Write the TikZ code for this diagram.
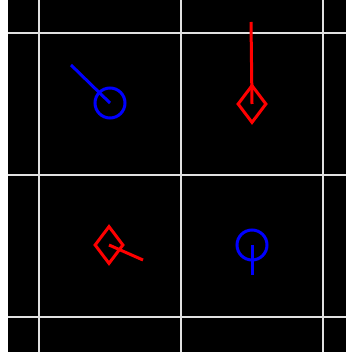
\documentclass[tikz,border=0pt]{standalone}
\usetikzlibrary{shapes.geometric}
\begin{document}
\begin{tikzpicture}[x=1pt,y=-1pt,
  gridline/.style={draw=white!88!black,line width=2pt},
  bluemark/.style={circle,draw=blue,line width=3pt,minimum size=30pt,inner sep=0pt},
  redmark/.style={diamond,draw=red,line width=3pt,minimum width=29pt,minimum height=38pt,inner sep=0pt},
  bluestick/.style={draw=blue,line width=3pt},
  redstick/.style={draw=red,line width=3pt}]
\useasboundingbox (0,0) rectangle (346,352);
\fill[white] (0,0) rectangle (346,352);
\fill[black] (8,0) rectangle (346,352);
% grid
\foreach \x in {39,181,323} \draw[gridline] (\x,0) -- (\x,352);
\foreach \y in {33,175,317} \draw[gridline] (8,\y) -- (346,\y);
% markers
\node[bluemark] (c1) at (110,103) {};
\coordinate (e1) at (71,65);
\draw[bluestick] (c1.center) -- (e1);
\node[redmark] (d1) at (252,104) {};
\coordinate (e2) at (251,22);
\draw[redstick] (d1.center) -- (e2);
\node[redmark] (d2) at (109,245) {};
\coordinate (e3) at (143,260);
\draw[redstick] (d2.center) -- (e3);
\node[bluemark] (c2) at (252,245) {};
\coordinate (e4) at (252,275);
\draw[bluestick] (c2.center) -- (e4);
\end{tikzpicture}
\end{document}
